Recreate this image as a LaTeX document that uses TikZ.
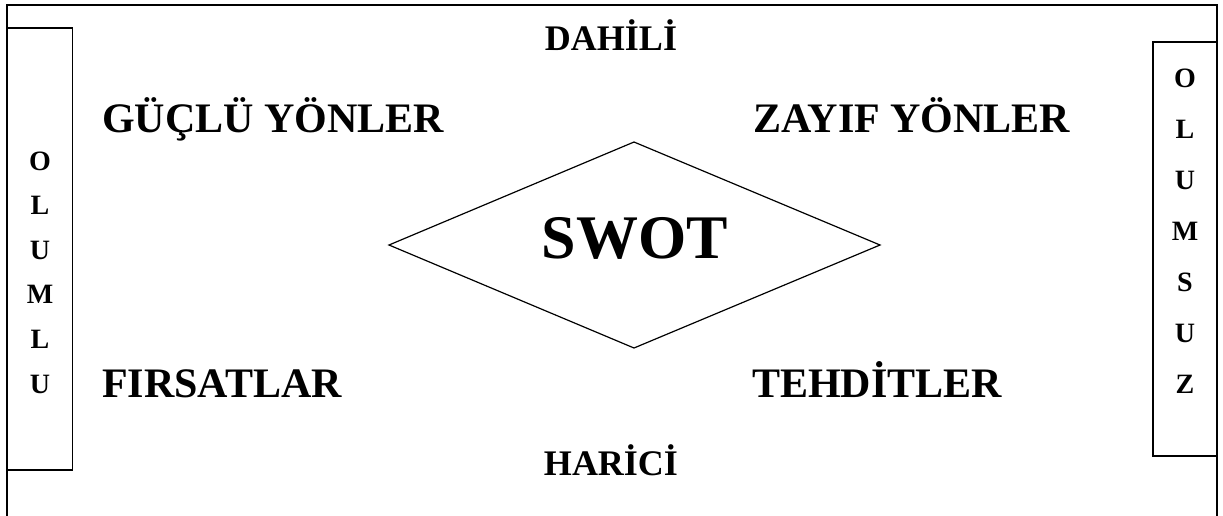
\documentclass[tikz,border=0pt]{standalone}
\usepackage{fontspec}
\setmainfont{Liberation Serif}
\begin{document}
\begin{tikzpicture}[x=1pt,y=-1pt,
  frame/.style={line width=1.6pt},
  sidebox/.style={line width=1.3pt},
  big/.style={inner sep=0pt,anchor=base west,font=\fontsize{42}{42}\selectfont\bfseries},
  mid/.style={inner sep=0pt,anchor=base,font=\fontsize{36}{36}\selectfont\bfseries},
  vlet/.style={inner sep=0pt,anchor=base,font=\fontsize{28}{28}\selectfont\bfseries}]
\useasboundingbox (0,0) rectangle (1223,515);
% outer frame (bottom edge lies below the picture)
\draw[frame] (7,516) -- (7,5) -- (1217,5) -- (1217,516);
% side boxes
\draw[sidebox] (7,28) rectangle (72.5,470);
\draw[sidebox] (1153,42) rectangle (1217,456);
% diamond
\coordinate (dl) at (389,245);
\coordinate (dt) at (634,142);
\coordinate (dr) at (880,245);
\coordinate (db) at (634,348);
\draw[line width=1.2pt] (dl) -- (dt) -- (dr) -- (db) -- cycle;
\node[inner sep=0pt,anchor=base,font=\fontsize{62}{62}\selectfont\bfseries] (swot) at (635,258) {SWOT};
% labels
\node[mid] (dahili) at (611,50) {DAHİLİ};
\node[mid] (harici) at (611,475) {HARİCİ};
\node[big] (s) at (102,132) {GÜÇLÜ YÖNLER};
\node[big] (w) at (753,132) {ZAYIF YÖNLER};
\node[big] (o) at (102,397) {FIRSATLAR};
\node[big] (t) at (752,397) {TEHDİTLER};
% vertical words
\foreach \l [count=\i] in {O,L,U,M,L,U}
  \node[vlet] (left\i) at (40,{170+(\i-1)*44.6}) {\l};
\foreach \l [count=\i] in {O,L,U,M,S,U,Z}
  \node[vlet] (right\i) at (1185,{87+(\i-1)*51}) {\l};
\end{tikzpicture}
\end{document}
